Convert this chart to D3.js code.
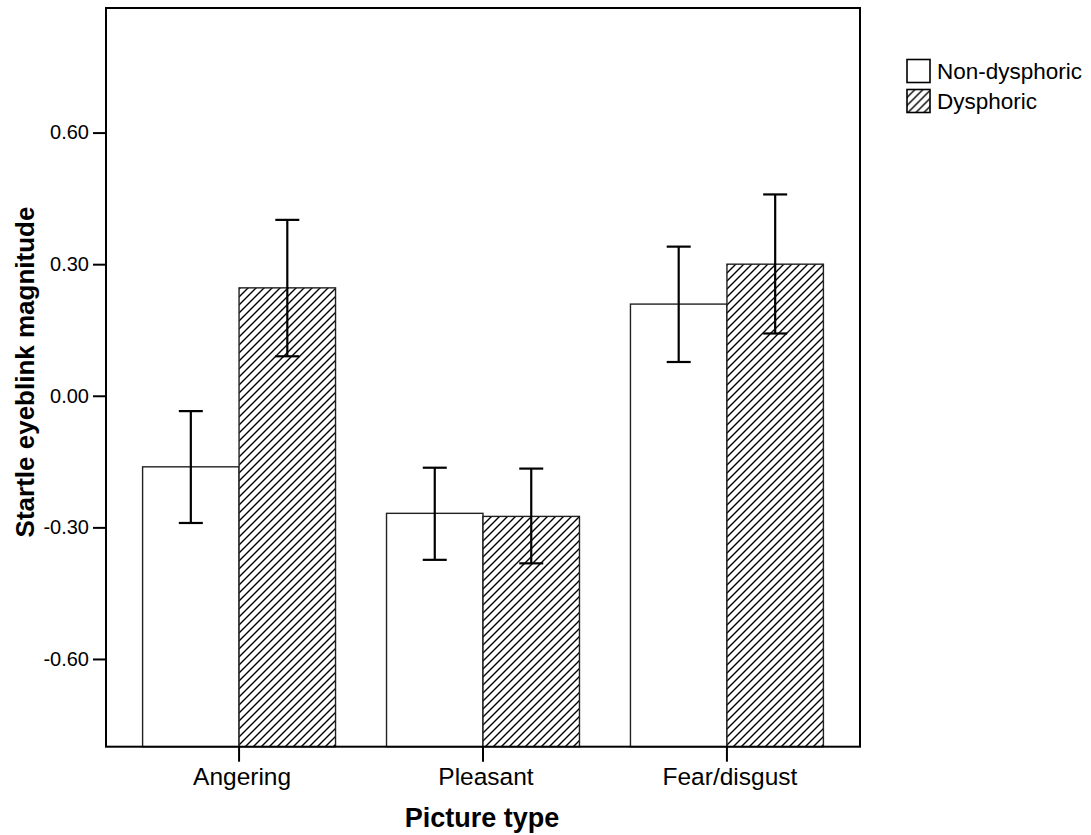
<!DOCTYPE html>
<html>
<head>
<meta charset="utf-8">
<script src="https://cdn.jsdelivr.net/npm/d3@7"></script>
<style>
  body { margin: 0; background: #fff; }
  svg text { font-family: Arial, "Liberation Sans", Helvetica, sans-serif; fill: #000; }
</style>
</head>
<body>
<div id="chart"></div>
<script>
// chart data
var categories = ["Angering", "Pleasant", "Fear/disgust"];
var groups = ["Non-dysphoric", "Dysphoric"];
var nonDysMean = [-0.162, -0.268, 0.209];
var nonDysLow  = [-0.290, -0.374, 0.077];
var nonDysHigh = [-0.035, -0.164, 0.340];
var dysMean = [0.246, -0.275, 0.300];
var dysLow  = [0.090, -0.382, 0.142];
var dysHigh = [0.401, -0.166, 0.459];
var yTicks = [-0.60, -0.30, 0.00, 0.30, 0.60];

var W = 1091, H = 835;
var plotL = 106, plotR = 860, plotT = 8, plotB = 746.7;

var svg = d3.select("#chart").append("svg")
  .attr("width", W).attr("height", H);

// hatch pattern for dysphoric bars
var pat = svg.append("defs").append("pattern")
  .attr("id", "hatch")
  .attr("patternUnits", "userSpaceOnUse")
  .attr("width", 8).attr("height", 8);
pat.append("rect").attr("width", 8).attr("height", 8).attr("fill", "#fff");
pat.append("path")
  .attr("d", "M-2,2 L2,-2 M0,8 L8,0 M6,10 L10,6")
  .attr("stroke", "#000").attr("stroke-width", 1.4);

var y = d3.scaleLinear().domain([-0.80, 0.884]).range([plotB, plotT]);
var x = d3.scaleBand().domain(categories).range([plotL, plotR])
  .paddingInner(0.209).paddingOuter(0.15);
var xs = d3.scaleBand().domain(groups).range([0, x.bandwidth()]);

var rows = [];
categories.forEach(function(c, i) {
  rows.push({cat: c, grp: groups[0], mean: nonDysMean[i], lo: nonDysLow[i], hi: nonDysHigh[i]});
  rows.push({cat: c, grp: groups[1], mean: dysMean[i], lo: dysLow[i], hi: dysHigh[i]});
});

// bars (drawn up from the bottom of the axis)
svg.selectAll("rect.bar").data(rows).enter().append("rect")
  .attr("class", "bar")
  .attr("x", function(d) { return x(d.cat) + xs(d.grp); })
  .attr("width", xs.bandwidth())
  .attr("y", function(d) { return y(d.mean); })
  .attr("height", function(d) { return plotB - y(d.mean); })
  .attr("fill", function(d) { return d.grp == groups[1] ? "url(#hatch)" : "#fff"; })
  .attr("stroke", "#222").attr("stroke-width", 1.4);

// error bars
var eb = svg.selectAll("g.err").data(rows).enter().append("g").attr("class", "err")
  .attr("stroke", "#000").attr("stroke-width", 2.2);
function cx(d) { return x(d.cat) + xs(d.grp) + xs.bandwidth() / 2; }
eb.append("line")
  .attr("x1", cx).attr("x2", cx)
  .attr("y1", function(d) { return y(d.lo); })
  .attr("y2", function(d) { return y(d.hi); });
eb.append("line")
  .attr("x1", function(d) { return cx(d) - 12; }).attr("x2", function(d) { return cx(d) + 12; })
  .attr("y1", function(d) { return y(d.hi); }).attr("y2", function(d) { return y(d.hi); });
eb.append("line")
  .attr("x1", function(d) { return cx(d) - 12; }).attr("x2", function(d) { return cx(d) + 12; })
  .attr("y1", function(d) { return y(d.lo); }).attr("y2", function(d) { return y(d.lo); });

// frame
svg.append("rect")
  .attr("x", plotL).attr("y", plotT)
  .attr("width", plotR - plotL).attr("height", plotB - plotT)
  .attr("fill", "none").attr("stroke", "#000").attr("stroke-width", 2);

// y axis
var fmt = d3.format(".2f");
var yAxis = svg.append("g").attr("transform", "translate(" + plotL + ",0)")
  .call(d3.axisLeft(y).tickValues(yTicks)
    .tickFormat(function(d) { return fmt(d).replace("\u2212", "-"); })
    .tickSize(13).tickPadding(4));
yAxis.select(".domain").remove();
yAxis.selectAll(".tick line").attr("stroke", "#000").attr("stroke-width", 2);
yAxis.selectAll(".tick text").attr("font-size", 20).attr("font-family", "Arial, 'Liberation Sans', sans-serif");

// x axis
var xAxis = svg.append("g").attr("transform", "translate(0," + plotB + ")")
  .call(d3.axisBottom(x).tickSize(15).tickPadding(6));
xAxis.select(".domain").remove();
xAxis.selectAll(".tick line").attr("stroke", "#000").attr("stroke-width", 2);
xAxis.selectAll(".tick text").attr("font-size", 24.5).attr("font-family", "Arial, 'Liberation Sans', sans-serif")
  .attr("dx", 3);

// axis titles
svg.append("text")
  .attr("x", 482).attr("y", 826.7)
  .attr("text-anchor", "middle")
  .attr("font-size", 27).attr("font-weight", "bold")
  .text("Picture type");

svg.append("text")
  .attr("transform", "translate(33.5,372) rotate(-90)")
  .attr("text-anchor", "middle")
  .attr("font-size", 26).attr("font-weight", "bold")
  .text("Startle eyeblink magnitude");

// legend
var leg = svg.selectAll("g.leg").data(groups).enter().append("g").attr("class", "leg")
  .attr("transform", function(d, i) { return "translate(907," + (59.5 + i * 30) + ")"; });
leg.append("rect")
  .attr("width", 23).attr("height", 23)
  .attr("fill", function(d, i) { return i == 1 ? "url(#hatch)" : "#fff"; })
  .attr("stroke", "#000").attr("stroke-width", 1.6);
leg.append("text")
  .attr("x", 30).attr("y", 19.5)
  .attr("font-size", 22.5)
  .text(function(d) { return d; });
</script>
</body>
</html>
